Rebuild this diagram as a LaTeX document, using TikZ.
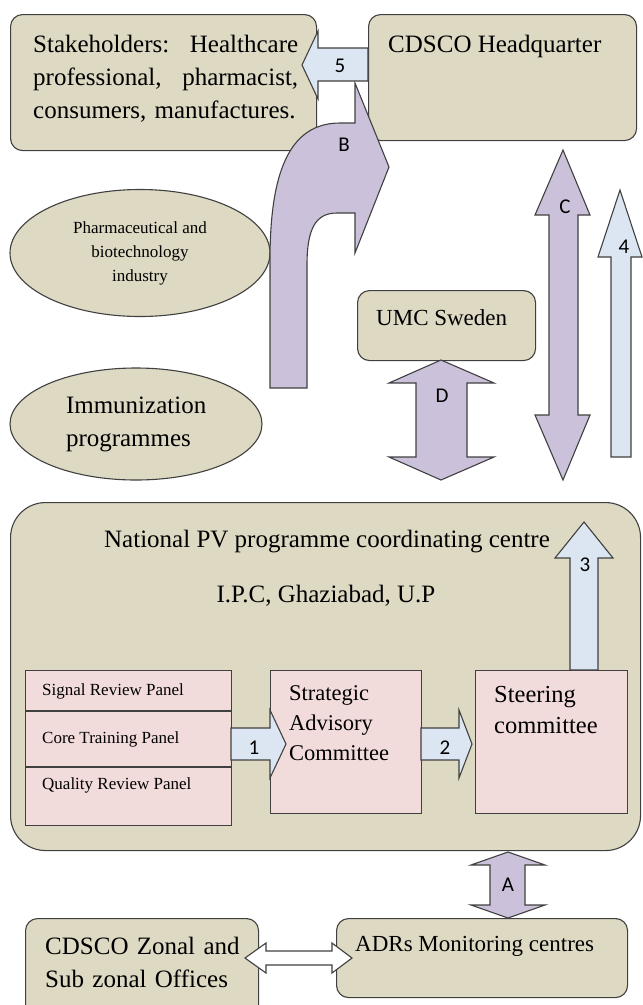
\documentclass[tikz,border=0pt]{standalone}
\usepackage{fontspec}
\setmainfont{Liberation Serif}
\newfontfamily\tagfont{Carlito}
\usetikzlibrary{shapes, positioning}

\definecolor{tanfill}{HTML}{DDD9C3}
\definecolor{lilac}{HTML}{CCC1DA}
\definecolor{paleblue}{HTML}{DCE6F2}
\definecolor{rosefill}{HTML}{F2DCDB}
\definecolor{edge}{HTML}{404040}

\begin{document}
\begin{tikzpicture}[x=1pt, y=-1pt,
  tanbox/.style={draw=edge, fill=tanfill, line width=1.1pt, rounded corners=12pt, anchor=north west, inner sep=0pt},
  rosebox/.style={draw=edge, fill=rosefill, line width=1.1pt, anchor=north west, inner sep=0pt},
  oval/.style={ellipse, draw=edge, fill=tanfill, line width=1.1pt, inner sep=0pt},
  lilacarrow/.style={draw=edge, fill=lilac, line width=1.1pt},
  bluearrow/.style={draw=edge, fill=paleblue, line width=1.1pt},
  whitearrow/.style={draw=edge, fill=white, line width=1.1pt},
  bigtext/.style={font=\fontsize{25}{33}\selectfont, inner sep=0pt},
  midtext/.style={font=\fontsize{23}{30}\selectfont, inner sep=0pt},
  smalltext/.style={font=\fontsize{17}{24}\selectfont, inner sep=0pt},
  tag/.style={font=\tagfont\fontsize{21}{21}\selectfont, inner sep=0pt}]

\useasboundingbox (0,0) rectangle (643,1005);
\clip (0,0) rectangle (643,1005);

% Top boxes
\node (stake) [tanbox, minimum width=306pt, minimum height=136pt] at (10,14) {};
\node (stakeText) [bigtext, anchor=north west, text width=265pt, align=left] at (33,35)
  {Stakeholders:\hfill Healthcare\\ professional,\hfill pharmacist,\\ consumers, manufactures.};
\node (hq) [tanbox, minimum width=268pt, minimum height=126pt] at (368,14) {};
\node (hqText) [bigtext, anchor=base west] at (388,52) {CDSCO Headquarter};

% Ovals
\node (pharma) [oval, smalltext, align=center, minimum width=260pt, minimum height=127pt] at (140,253)
  {Pharmaceutical and\\ biotechnology\\ industry};
\node (immun) [oval, bigtext, text width=140pt, align=left, minimum width=252pt, minimum height=112pt] at (136,424)
  {Immunization\\ programmes};

\node (umc) [tanbox, minimum width=178pt, minimum height=70pt] at (357,290) {};
\node (umcText) [midtext, anchor=base west] at (376,325) {UMC Sweden};

% National centre
\node (npv) [tanbox, rounded corners=35pt, minimum width=630pt, minimum height=348pt] at (10,502) {};
\node (npvTitle) [bigtext, anchor=base] at (327,547) {National PV programme coordinating centre};
\node (ipc) [bigtext, anchor=base] at (326,602) {I.P.C, Ghaziabad, U.P};

\node (panels) [rosebox, minimum width=206pt, minimum height=155pt] at (25,670) {};
\draw[draw=edge, line width=1.1pt] (25,711) -- (231,711) (25,767) -- (231,767);
\node (signal) [smalltext, anchor=base west] at (42,695) {Signal Review Panel};
\node (core) [smalltext, anchor=base west] at (42,743) {Core Training Panel};
\node (quality) [smalltext, anchor=base west] at (42,789) {Quality Review Panel};

\node (sac) [rosebox, minimum width=151pt, minimum height=143pt] at (270,670) {};
\node (sacText) [font=\fontsize{22.5}{30}\selectfont, inner sep=0pt, anchor=base west, text width=125pt, align=left] at (289,700)
  {Strategic\\ Advisory\\ Committee};
\node (steer) [rosebox, minimum width=152pt, minimum height=143pt] at (475,670) {};
\node (steerText) [font=\fontsize{24.5}{31}\selectfont, inner sep=0pt, anchor=base west, text width=125pt, align=left] at (494,702)
  {Steering\\ committee};

% Bottom boxes
\node (zonal) [tanbox, minimum width=233pt, minimum height=110pt] at (25,918) {};
\node (zonalText) [bigtext, anchor=base west, text width=210pt, align=left] at (45,954) {CDSCO Zonal and\\ Sub zonal Offices};
\node (adr) [tanbox, minimum width=291pt, minimum height=79pt] at (336,918) {};
\node (adrText) [midtext, anchor=base west] at (355,951) {ADRs Monitoring centres};

% Block arrows
\draw[lilacarrow] (270,388) -- (270,260) .. controls (270,175) and (288,123) .. (340,123) -- (355,123)
  -- (355,83) -- (389,167) -- (355,253) -- (355,213) -- (337,213)
  .. controls (316,213) and (307,228) .. (307,265) -- (307,388) -- cycle;
\draw[bluearrow] (368,48) -- (318,48) -- (318,31) -- (302,65) -- (318,99) -- (318,81) -- (368,81) -- cycle;
\draw[lilacarrow] (563,150) -- (590,215) -- (578,215) -- (578,415) -- (590,415) -- (563,480)
  -- (535,415) -- (549,415) -- (549,215) -- (535,215) -- cycle;
\draw[bluearrow] (620,190) -- (642,257) -- (631,257) -- (631,457) -- (611,457) -- (611,257) -- (598,257) -- cycle;
\draw[lilacarrow] (441,360) -- (494,383) -- (467,383) -- (467,457) -- (494,457) -- (441,480)
  -- (389,457) -- (416,457) -- (416,383) -- (389,383) -- cycle;
\draw[bluearrow] (584,522) -- (613,558) -- (598,558) -- (598,670) -- (570,670) -- (570,558) -- (555,558) -- cycle;
\draw[bluearrow] (231,728) -- (270,728) -- (270,710) -- (286,744) -- (270,778) -- (270,760) -- (231,760) -- cycle;
\draw[bluearrow] (421,728) -- (459,728) -- (459,710) -- (472,744) -- (459,778) -- (459,760) -- (421,760) -- cycle;
\draw[lilacarrow] (508,852) -- (545,865) -- (525,865) -- (525,905) -- (545,905) -- (508,918)
  -- (471,905) -- (490,905) -- (490,865) -- (471,865) -- cycle;
\draw[whitearrow] (245,958) -- (266,943) -- (266,951) -- (332,951) -- (332,943) -- (352,958)
  -- (332,973) -- (332,965) -- (266,965) -- (266,973) -- cycle;

% Arrow tags
\node (tag5) [tag] at (340,66) {5};
\node (tagB) [tag] at (344,145) {B};
\node (tagC) [tag] at (565,207) {C};
\node (tag4) [tag] at (624,247) {4};
\node (tagD) [tag] at (442,396) {D};
\node (tag3) [tag] at (585,565) {3};
\node (tag1) [tag] at (254,748) {1};
\node (tag2) [tag] at (445,748) {2};
\node (tagA) [tag] at (508,885) {A};

\end{tikzpicture}
\end{document}
